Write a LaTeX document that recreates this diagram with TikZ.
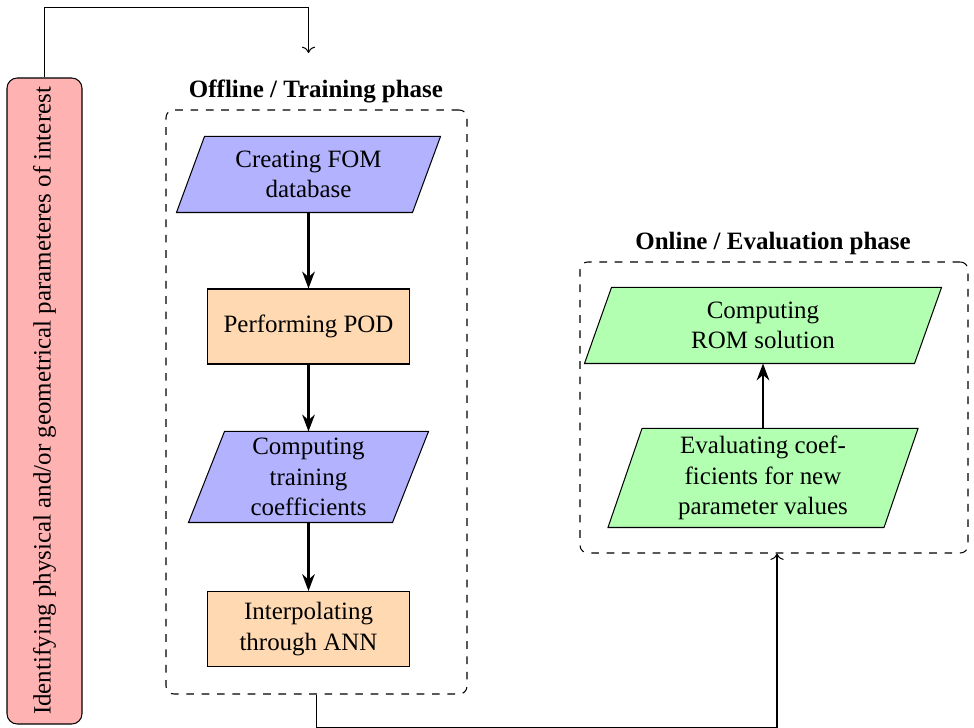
\documentclass[tikz,border=0pt]{standalone}
\usepackage{fontspec}
\setmainfont{Liberation Serif}
\usetikzlibrary{arrows.meta,calc,backgrounds}
\newcommand\drawpara[3]{%
  \begin{scope}[on background layer]
    \draw[fill=#3] ($(#1.north west)+(#2/2,0)$) -- ($(#1.north east)+(#2/2,0)$)
      -- ($(#1.south east)-(#2/2,0)$) -- ($(#1.south west)-(#2/2,0)$) -- cycle;
  \end{scope}}
\begin{document}
\begin{tikzpicture}[x=0.390625pt,y=-0.390625pt,
  every node/.style={font=\fontsize{9.75}{11.8}\selectfont},
  paranode/.style={inner sep=0pt, align=center},
  procbox/.style={draw, fill=orange!30, minimum width=202*0.390625pt, minimum height=75*0.390625pt, inner sep=0pt, align=center},
  phasebox/.style={draw, dashed, rounded corners=3pt},
  phasetitle/.style={font=\fontsize{9.75}{11.8}\selectfont\bfseries},
  flow/.style={thick,-{Stealth}},
  link/.style={->}]
\useasboundingbox (0,0) rectangle (974,728);

% left box
\node[draw, fill=red!30, rounded corners=4pt, rotate=90, minimum width=646*0.390625pt, minimum height=75*0.390625pt, inner sep=0pt] (ident) at (44.5,401) {Identifying physical and/or geometrical parameteres of interest};

% phase boxes
\node[phasebox, minimum width=301*0.390625pt, minimum height=584*0.390625pt] (train) at (316.5,402) {};
\node[phasebox, minimum width=388*0.390625pt, minimum height=291*0.390625pt] (online) at (774,407.5) {};
\node[phasetitle] (traintitle) at (316,91.5) {Offline / Training phase};
\node[phasetitle] (onlinetitle) at (773,243.5) {Online / Evaluation phase};

% training nodes
\node[paranode, minimum width=235*0.390625pt, minimum height=75*0.390625pt] (fom) at (308.5,174.5) {Creating FOM\\database};
\drawpara{fom}{28}{blue!30}
\node[procbox] (pod) at (308.5,326.5) {Performing POD};
\node[paranode, minimum width=203*0.390625pt, minimum height=90*0.390625pt] (coef) at (308.5,477) {Computing\\training\\coefficients};
\drawpara{coef}{36}{blue!30}
\node[procbox] (ann) at (308.5,629) {Interpolating\\through ANN};

% online nodes
\node[paranode, minimum width=329*0.390625pt, minimum height=75*0.390625pt] (rom) at (763,325.5) {Computing\\ROM solution};
\drawpara{rom}{27}{green!30}
\node[paranode, minimum width=275*0.390625pt, minimum height=98*0.390625pt] (eval) at (763,478) {Evaluating coef-\\ficients for new\\parameter values};
\drawpara{eval}{34}{green!30}

% flow arrows
\draw[flow] (fom) -- (pod);
\draw[flow] (pod) -- (coef);
\draw[flow] (coef) -- (ann);
\draw[flow] (eval) -- (rom);

% connectors
\coordinate (topend) at (308.5,53);
\coordinate (botend) at ($(online.south)+(3,0)$);
\draw[link] (ident.east) -- ++(0,-70) -| (topend);
\draw[link] (train.south) -- ++(0,33) -| (botend);
\end{tikzpicture}
\end{document}
